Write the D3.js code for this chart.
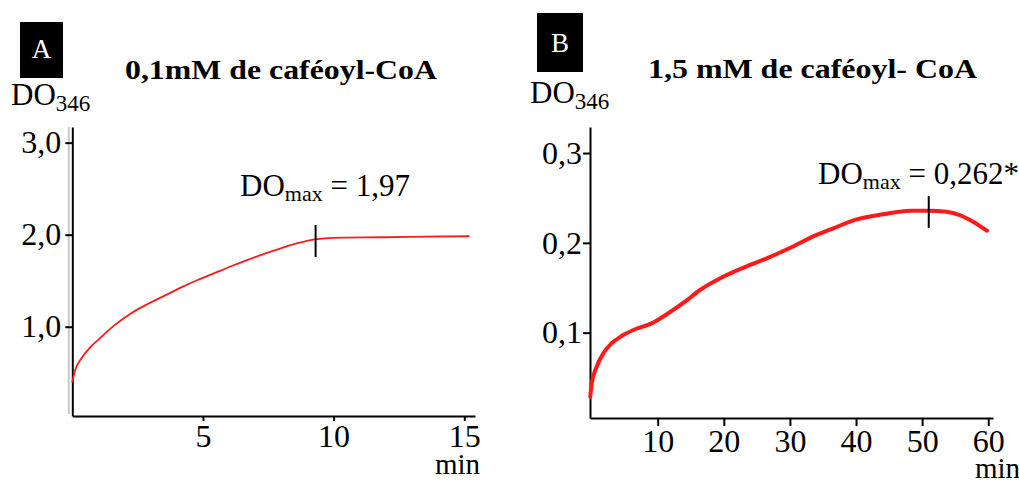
<!DOCTYPE html>
<html><head><meta charset="utf-8">
<script src="https://cdn.jsdelivr.net/npm/d3@7"></script>
<style>
html,body{margin:0;padding:0;background:#fff;overflow:hidden}
text{font-family:"Liberation Serif","Times New Roman",serif;fill:#000}
</style></head>
<body>
<svg id="chart" width="1019" height="481"></svg>
<script>
// Panel A: 0,1 mM caféoyl-CoA
const timeA = [0, 0.10, 0.36, 0.7, 1.0, 1.63, 2.27, 2.91, 3.55, 4.19, 4.82, 5.46, 6.10, 6.74, 7.37, 8.01, 8.65, 9.29, 9.67, 10.5, 12, 13.5, 15.17];
const odA   = [0.403, 0.52, 0.66, 0.78, 0.86, 1.02, 1.15, 1.25, 1.34, 1.43, 1.51, 1.585, 1.66, 1.73, 1.795, 1.855, 1.91, 1.95, 1.961, 1.968, 1.972, 1.978, 1.983];
const xTicksA = [5, 10, 15];
const yTicksA = [1, 2, 3];
const yTickLabelsA = ["1,0", "2,0", "3,0"];
const maxTimeA = 9.31;
const titleA = "0,1mM de caféoyl-CoA";
const maxLabelA = "1,97";

// Panel B: 1,5 mM caféoyl-CoA
const timeB = [-0.2, 0.02, 0.77, 1.77, 3.04, 4.55, 6.57, 9.09, 11.6, 14.13, 16.4, 19.9, 23.96, 26.5, 29.9, 34.05, 36.56, 39.84, 44.1, 48.2, 51.0, 53.7, 55.7, 57.7, 59.8];
const odB   = [0.0287, 0.0436, 0.0621, 0.077, 0.0882, 0.0963, 0.1038, 0.1104, 0.1216, 0.1345, 0.1475, 0.1623, 0.1754, 0.1828, 0.194, 0.2088, 0.2162, 0.2255, 0.2318, 0.2358, 0.2358, 0.2347, 0.231, 0.2236, 0.2135];
const xTicksB = [10, 20, 30, 40, 50, 60];
const yTicksB = [0.1, 0.2, 0.3];
const yTickLabelsB = ["0,1", "0,2", "0,3"];
const maxTimeB = 51;
const titleB = "1,5 mM de caféoyl- CoA";
const maxLabelB = "0,262*";

const svg = d3.select("#chart");

function panel(cfg) {
  const x = d3.scaleLinear().domain(cfg.xDomain).range(cfg.xRange);
  const y = d3.scaleLinear().domain(cfg.yDomain).range(cfg.yRange);
  const g = svg.append("g");

  if (cfg.grey) {
    g.append("line").attr("x1", cfg.xRange[0] - 3.5).attr("x2", cfg.xRange[0] - 3.5)
      .attr("y1", cfg.yRange[1]).attr("y2", cfg.yRange[0] - 2)
      .attr("stroke", "#c8c8c0").attr("stroke-width", 2);
  }

  const yAxis = d3.axisLeft(y).tickValues(cfg.yTicks)
    .tickFormat((d, i) => cfg.yLabels[i]).tickSizeInner(7).tickSizeOuter(0).tickPadding(cfg.yPad);
  const ya = g.append("g").attr("transform", `translate(${cfg.xRange[0]},0)`).call(yAxis);
  ya.selectAll("path,line").attr("stroke", "#000").attr("stroke-width", 2);
  ya.selectAll("text").style("font-size", "32px").style("font-family", "Liberation Serif").attr("fill", "#000");

  const xAxis = d3.axisBottom(x).tickValues(cfg.xTicks).tickSizeInner(cfg.xTick).tickSizeOuter(0).tickPadding(3);
  const xa = g.append("g").attr("transform", `translate(0,${cfg.yRange[0]})`).call(xAxis);
  xa.selectAll("path,line").attr("stroke", "#000").attr("stroke-width", 2);
  xa.selectAll("text").style("font-size", "32px").style("font-family", "Liberation Serif").attr("fill", "#000");

  const line = d3.line().x((d, i) => x(cfg.t[i])).y(d => y(d)).curve(d3.curveMonotoneX);
  g.append("path").datum(cfg.v).attr("d", line).attr("fill", "none")
    .attr("stroke", "#ff1a1a").attr("stroke-width", cfg.lw).attr("stroke-linecap", "round");

  // DOmax marker
  const mx = x(cfg.maxT);
  g.append("line").attr("x1", mx).attr("x2", mx).attr("y1", cfg.markY[0]).attr("y2", cfg.markY[1])
    .attr("stroke", "#000").attr("stroke-width", 2);

  // DOmax label
  const t = g.append("text").attr("x", cfg.labelPos[0]).attr("y", cfg.labelPos[1]).style("font-size", "31px");
  t.append("tspan").text("DO");
  t.append("tspan").text("max").style("font-size", "22px").attr("dy", 5);
  t.append("tspan").text(" = " + cfg.maxLabel).attr("dy", -5);

  // min label
  g.append("text").attr("x", cfg.minPos[0]).attr("y", cfg.minPos[1]).style("font-size", "29px").text("min");

  // panel letter box
  g.append("rect").attr("x", cfg.box[0]).attr("y", cfg.box[1]).attr("width", cfg.box[2]).attr("height", cfg.box[3]).attr("fill", "#000");
  g.append("text").attr("x", cfg.box[0] + cfg.box[2] / 2).attr("y", cfg.box[4]).attr("text-anchor", "middle")
    .style("font-size", "27px").style("fill", "#fff").text(cfg.letter);

  // Y title DO346
  const yt = g.append("text").attr("x", cfg.doPos[0]).attr("y", cfg.doPos[1]).style("font-size", "31px");
  yt.append("tspan").text("DO");
  yt.append("tspan").text("346").style("font-size", "23px").attr("dy", 6);

  // Title
  g.append("text").attr("x", cfg.titlePos[0]).attr("y", cfg.titlePos[1])
    .style("font-size", "28px").style("font-weight", "bold")
    .attr("textLength", cfg.titlePos[2]).attr("lengthAdjust", "spacingAndGlyphs").text(cfg.title);
}

panel({
  xDomain: [0, 15.41], xRange: [72.3, 475],
  yDomain: [0.03, 3.17], yRange: [416, 127],
  yTicks: yTicksA, yLabels: yTickLabelsA, yPad: 4,
  xTicks: xTicksA, xTick: 5,
  t: timeA, v: odA, lw: 1.8,
  maxT: maxTimeA, markY: [225, 257], maxLabel: maxLabelA, labelPos: [240, 196],
  minPos: [435, 474],
  box: [20, 22, 43, 56, 58], letter: "A",
  doPos: [11, 105], title: titleA, titlePos: [125, 79, 312],
  grey: true
});

panel({
  xDomain: [-0.24, 60.72], xRange: [590, 993],
  yDomain: [0.005, 0.329], yRange: [418, 127],
  yTicks: yTicksB, yLabels: yTickLabelsB, yPad: 1,
  xTicks: xTicksB, xTick: 8,
  t: timeB, v: odB, lw: 4,
  maxT: maxTimeB, markY: [196, 228], maxLabel: maxLabelB, labelPos: [818, 184],
  minPos: [975, 478],
  box: [537, 13, 46, 59, 52], letter: "B",
  doPos: [530, 103], title: titleB, titlePos: [648, 78, 329],
  grey: false
});
</script>
</body></html>
